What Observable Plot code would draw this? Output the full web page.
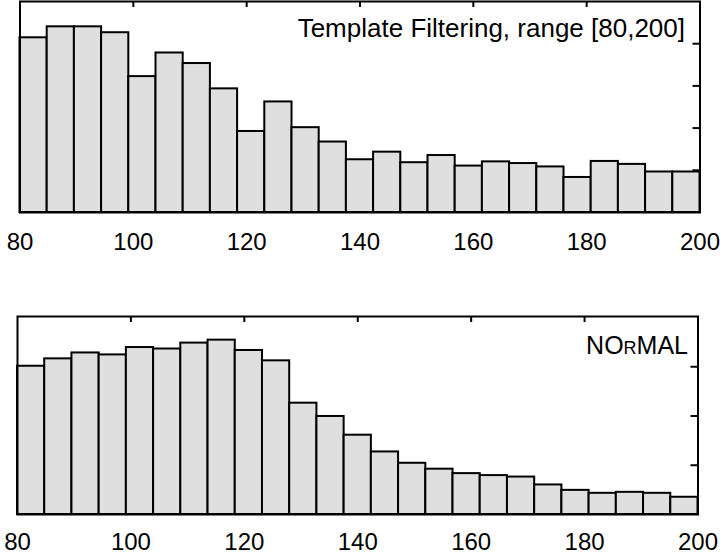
<!DOCTYPE html>
<html><head><meta charset="utf-8">
<script src="https://cdn.jsdelivr.net/npm/d3@7"></script>
<script src="https://cdn.jsdelivr.net/npm/@observablehq/plot@0.6"></script>
<style>body{margin:0;background:#fff;} #chart svg{display:block;}</style>
</head><body><div id="chart"></div>
<script>
const binStarts = [80, 84.8, 89.6, 94.4, 99.2, 104, 108.8, 113.6, 118.4, 123.2, 128, 132.8, 137.6, 142.4, 147.2, 152, 156.8, 161.6, 166.4, 171.2, 176, 180.8, 185.6, 190.4, 195.2];
const binWidth = 4.8;
const xTickValues = [80, 100, 120, 140, 160, 180, 200];
const innerXTicks = [100, 120, 140, 160, 180];
const tfValues = [41.4, 44.0, 44.0, 42.6, 32.2, 37.8, 35.3, 29.3, 19.2, 26.2, 20.1, 16.7, 12.5, 14.3, 11.8, 13.5, 11.0, 12.0, 11.6, 10.8, 8.3, 12.1, 11.4, 9.6, 9.6];
const normalValues = [30.1, 31.6, 32.8, 32.4, 33.9, 33.6, 34.8, 35.4, 33.3, 31.2, 22.6, 19.9, 16.1, 12.7, 10.4, 9.2, 8.3, 7.9, 7.6, 6.0, 4.9, 4.3, 4.5, 4.3, 3.5];
const tfYTicks = [10, 20, 30, 40];
const normalYTicks = [10, 20, 30];
const tfTitle = "Template Filtering, range [80,200]";
const normalTitle = "NOrMAL";

function panel({values, yDomain, yTicks, title, titleSize, height, marginTop, marginBottom, marginLeft, marginRight, tickPadding, titleDx, titleDy, smallCaps}) {
  const bins = binStarts.map((x1, i) => ({x1, x2: x1 + binWidth, y: values[i]}));
  const frameW = 720 - marginLeft - marginRight;
  const frameH = height - marginTop - marginBottom;
  return Plot.plot({
    width: 720, height, marginTop, marginBottom, marginLeft, marginRight,
    style: {fontFamily: "'Liberation Sans', Arial, Helvetica, sans-serif", background: "white", overflow: "visible", color: "black"},
    x: {domain: [80, 200]},
    y: {domain: yDomain, axis: null},
    marks: [
      Plot.tickX(innerXTicks, {x: d => d, stroke: "black", strokeWidth: 2, insetBottom: frameH - 6}),
      Plot.tickY(yTicks, {y: d => d, stroke: "black", strokeWidth: 2, insetLeft: frameW - 7}),
      Plot.rectY(bins, {x1: "x1", x2: "x2", y: "y", fill: "#dfdfdf", stroke: "black", strokeWidth: 2, inset: 0}),
      Plot.frame({stroke: "black", strokeWidth: 2}),
      Plot.axisX(xTickValues, {tickSize: 0, tickPadding, fontSize: 24, tickFormat: d => String(d), label: null}),
      Plot.text([title], {text: d => d, frameAnchor: "top-right", textAnchor: "end", lineAnchor: "bottom", dx: titleDx, dy: titleDy, fontSize: titleSize, fill: "black", fontVariant: smallCaps ? "small-caps" : "normal"})
    ]
  });
}

const chart = document.getElementById("chart");
chart.append(panel({values: tfValues, yDomain: [0, 50], yTicks: tfYTicks, title: tfTitle, titleSize: 26, height: 262, marginTop: 1, marginBottom: 50, marginLeft: 19.5, marginRight: 20.5, tickPadding: 20, titleDx: -15, titleDy: 35, smallCaps: false}));
chart.append(panel({values: normalValues, yDomain: [0, 40.2], yTicks: normalYTicks, title: normalTitle, titleSize: 25, height: 297, marginTop: 54, marginBottom: 45, marginLeft: 17, marginRight: 22.5, tickPadding: 18, titleDx: -10, titleDy: 37, smallCaps: true}));
</script>
</body></html>
